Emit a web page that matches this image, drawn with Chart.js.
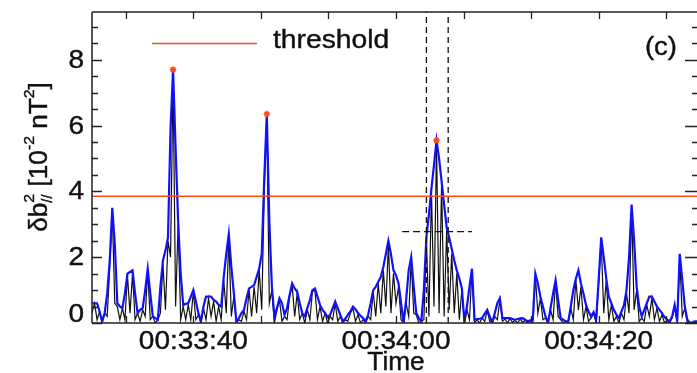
<!DOCTYPE html>
<html><head><meta charset="utf-8">
<script src="https://cdn.jsdelivr.net/npm/chart.js@4.4.0/dist/chart.umd.min.js"></script>
<style>
html,body{margin:0;padding:0;background:#fff;}
#wrap{width:697px;height:373px;overflow:hidden;position:relative;background:#fff;}
#c{display:block;}
</style></head><body>
<div id="wrap"><canvas id="c" width="720" height="373"></canvas></div>
<script>
// time in seconds after 00:33:30, fixed cadence
const T0 = 0;
const DT = 0.25;
const blueV = [
0.6,0.6,0.6,0.35,0.05,0.3,0.9,1.9,3.5,2.4,
0.6,0.5,0.45,0.9,1.5,1.55,1.6,0.9,0.3,0.4,
0.45,1.0,1.65,0.9,0.2,0.15,0.1,1.1,1.9,2.2,
2.6,5.9,7.7,5.3,3.1,1.5,0.55,0.58,0.6,0.8,
1.0,0.65,0.3,0.05,0.5,0.8,0.8,0.8,0.7,0.65,
0.55,0.5,1.4,2.1,2.7,1.7,0.9,0.03,0.15,0.3,
0.4,0.75,1.05,1.1,1.15,1.4,1.65,2.1,4.4,6.35,
3.1,1.1,0.2,0.45,0.75,0.6,0.25,0.45,0.85,1.2,
1.05,0.95,0.6,0.3,0.2,0.45,0.7,1.0,1.05,0.8,
0.55,0.4,0.3,0.18,0.25,0.45,0.65,0.45,0.25,0.05,
0.13,0.25,0.35,0.5,0.42,0.3,0.22,0.15,0.05,0.25,
0.6,1.0,1.1,1.25,1.4,1.7,2.1,2.5,2.1,1.6,
1.45,1.2,0.6,0.0,0.7,1.6,2.0,1.1,0.3,0.15,
0.05,1.0,2.6,3.3,4.1,4.8,5.55,5.0,4.3,3.6,
2.9,2.6,2.25,1.9,1.6,1.35,1.05,0.05,0.5,1.1,
1.65,0.1,0.12,0.13,0.15,0.28,0.4,0.2,0.02,0.3,
0.6,0.75,0.15,0.15,0.15,0.15,0.12,0.1,0.12,0.14,
0.15,0.1,0.05,0.08,0.1,1.5,1.2,0.8,0.5,0.2,
0.0,0.45,0.9,1.3,0.7,0.15,0.1,0.05,0.05,0.5,
1.0,1.35,1.6,1.2,0.9,0.55,0.35,0.2,0.33,0.1,
1.3,2.6,2.0,1.35,0.8,0.6,0.4,0.25,0.15,0.35,
0.55,1.0,2.0,3.6,2.5,1.1,0.5,0.2,0.4,0.6,
0.8,0.8,0.65,0.5,0.4,0.3,0.18,0.1,0.05,0.2,
0.55,0.05,2.1,1.3,0.5,0.1,0.0,0.02,0.05,0.05,0.05
];
const blackV = [
0.3,0.6,0.1,0.35,0.0,0.3,0.2,1.7,3.4,0.6,
0.5,0.1,0.45,0.1,1.45,0.3,1.5,0.1,0.3,0.05,
0.4,0.2,1.6,0.1,0.2,0.0,0.1,0.3,1.8,0.4,
2.5,2.0,7.5,0.5,3.0,0.1,0.5,0.1,0.55,0.1,
0.95,0.1,0.25,0.0,0.45,0.1,0.75,0.2,0.65,0.05,
0.5,0.1,1.3,0.3,2.6,0.2,0.8,0.0,0.1,0.05,
0.35,0.1,1.0,0.2,1.1,0.3,1.6,0.4,4.0,6.2,
0.6,1.0,0.0,0.4,0.7,0.05,0.2,0.1,0.8,1.15,
0.2,0.9,0.1,0.3,0.0,0.4,0.1,0.95,1.0,0.1,
0.5,0.05,0.3,0.0,0.2,0.1,0.6,0.05,0.2,0.0,
0.1,0.05,0.3,0.45,0.05,0.25,0.0,0.1,0.0,0.2,
0.1,0.95,0.2,1.2,0.3,1.6,0.5,2.4,0.3,1.5,
0.6,1.1,0.1,0.0,0.6,0.2,1.9,0.3,0.25,0.0,
0.05,0.1,2.5,0.2,4.0,0.5,5.4,0.3,4.2,0.2,
2.8,0.4,2.1,0.3,1.5,0.1,1.0,0.0,0.4,0.1,
1.6,0.0,0.1,0.0,0.15,0.05,0.38,0.05,0.0,0.2,
0.1,0.7,0.05,0.12,0.0,0.13,0.02,0.08,0.0,0.12,
0.02,0.08,0.0,0.05,0.0,1.45,0.3,0.75,0.1,0.15,
0.0,0.4,0.1,1.25,0.2,0.1,0.0,0.05,0.0,0.45,
0.1,1.3,0.4,1.1,0.1,0.5,0.05,0.15,0.3,0.0,
1.2,2.5,0.3,1.3,0.1,0.55,0.05,0.2,0.0,0.3,
0.1,0.9,0.3,3.5,0.4,1.0,0.05,0.15,0.05,0.55,
0.2,0.75,0.1,0.45,0.05,0.25,0.0,0.08,0.0,0.15,
0.5,0.0,2.0,0.2,0.45,0.0,0.0,0.02,0.0,0.04,0.0
];
const thresholdV = 3.85;
const peakT = [8.0, 17.25, 34.0];
const peakV = [7.7, 6.35, 5.55];
const windowT = [33.0, 35.15];
const halfMaxV = 2.775;
const halfMaxT = [30.6, 37.5];
const xTickValues = [10, 30, 50];
const xTickLabels = ['00:33:40', '00:34:00', '00:34:20'];
const yTickValues = [0, 2, 4, 6, 8];
const yTickLabels = ['0', '2', '4', '6', '8'];
const xMin = 0, xMax = 60, yMin = 0, yMax = 9.45;

const FONT = "'Liberation Sans', Arial, Helvetica, sans-serif";
const TXT = '#111';

function txt(ctx, s, x, y, size, align, sx) {
  ctx.save();
  ctx.font = size + 'px ' + FONT;
  const w = ctx.measureText(s).width * sx;
  let x0 = x;
  if (align === 'center') x0 = x - w / 2; else if (align === 'right') x0 = x - w;
  ctx.translate(x0, y);
  ctx.scale(sx, 1);
  ctx.textAlign = 'left';
  ctx.textBaseline = 'alphabetic';
  ctx.fillStyle = TXT;
  ctx.strokeStyle = TXT;
  ctx.lineWidth = 0.4;
  ctx.fillText(s, 0, 0);
  ctx.strokeText(s, 0, 0);
  ctx.restore();
}

const blackPts = blackV.map((v, i) => ({x: T0 + i * DT, y: v}));
const bluePts = blueV.map((v, i) => ({x: T0 + i * DT, y: v}));
const peakPts = peakT.map((t, i) => ({x: t, y: peakV[i]}));

const axesPlugin = {
  id: 'idlAxes',
  afterDatasetsDraw(chart) {
    const {ctx, chartArea: a, scales: {x, y}} = chart;
    ctx.save();
    ctx.strokeStyle = '#222';
    ctx.lineWidth = 1.5;
    ctx.beginPath();
    ctx.moveTo(a.left, a.top); ctx.lineTo(a.right, a.top);
    ctx.moveTo(a.left, a.bottom); ctx.lineTo(a.right, a.bottom);
    ctx.moveTo(a.left, a.top); ctx.lineTo(a.left, a.bottom);
    ctx.moveTo(a.right, a.top); ctx.lineTo(a.right, a.bottom);
    ctx.stroke();
    // y ticks
    ctx.lineWidth = 1.3;
    ctx.beginPath();
    for (let v = 0; v <= yMax; v += 0.5) {
      const py = Math.round(y.getPixelForValue(v)) + 0.5;
      const major = yTickValues.includes(v);
      const lL = major ? 10 : 6, lR = major ? 15 : 8;
      ctx.moveTo(a.left, py); ctx.lineTo(a.left + lL, py);
      ctx.moveTo(a.right, py); ctx.lineTo(a.right - lR, py);
    }
    // x ticks
    for (let k = 0; ; k++) {
      const t = 10 / 3 + k * 20 / 3;
      if (t > xMax) break;
      const px = Math.round(x.getPixelForValue(t)) + 0.5;
      ctx.moveTo(px, a.top); ctx.lineTo(px, a.top + 7);
      ctx.moveTo(px, a.bottom); ctx.lineTo(px, a.bottom - 7);
    }
    ctx.stroke();
    // y labels
    yTickValues.forEach((v, i) => {
      const py = y.getPixelForValue(v);
      const off = v === 0 ? -1 : 8;
      txt(ctx, yTickLabels[i], 84, py + off, 25, 'right', 1.12);
    });
    // x labels
    xTickValues.forEach((v, i) => {
      txt(ctx, xTickLabels[i], x.getPixelForValue(v), 349, 25, 'center', 1.12);
    });
    txt(ctx, 'Time', (a.left + a.right) / 2, 370, 25, 'center', 1.05);
    // legend
    ctx.strokeStyle = '#ff4a1c';
    ctx.lineWidth = 1.6;
    ctx.beginPath(); ctx.moveTo(152, 43.5); ctx.lineTo(257, 43.5); ctx.stroke();
    txt(ctx, 'threshold', 273, 48, 25, 'left', 1.13);
    txt(ctx, '(c)', 677, 55, 25, 'right', 1.1);
    // y title
    const segs = [
      {t: 'δb', s: 25, dy: 0},
      {t: '//', s: 14, dy: 5, stack: true},
      {t: '2', s: 15, dy: -13},
      {t: ' [10', s: 25, dy: 0},
      {t: '-2', s: 15, dy: -13},
      {t: ' nT', s: 25, dy: 0},
      {t: '2', s: 15, dy: -13},
      {t: ']', s: 25, dy: 0}
    ];
    ctx.save();
    let total = 0, stackW = 0;
    const widths = segs.map(g => { ctx.font = g.s + 'px ' + FONT; return ctx.measureText(g.t).width; });
    segs.forEach((g, i) => {
      if (g.stack) { stackW = widths[i]; }
      else if (stackW) { total += Math.max(stackW, widths[i]); stackW = 0; }
      else total += widths[i];
    });
    const sy = 1.05;
    ctx.translate(47, 157);
    ctx.rotate(-Math.PI / 2);
    ctx.scale(sy, 1);
    let cx = -total / 2;
    ctx.fillStyle = TXT;
    ctx.strokeStyle = TXT;
    ctx.lineWidth = 0.4;
    ctx.textBaseline = 'alphabetic';
    stackW = 0;
    segs.forEach((g, i) => {
      ctx.font = g.s + 'px ' + FONT;
      ctx.fillText(g.t, cx, g.dy);
      ctx.strokeText(g.t, cx, g.dy);
      if (g.stack) { stackW = widths[i]; }
      else if (stackW) { cx += Math.max(stackW, widths[i]); stackW = 0; }
      else cx += widths[i];
    });
    ctx.restore();
    ctx.restore();
  }
};

new Chart(document.getElementById('c'), {
  type: 'line',
  data: {
    datasets: [
      {data: peakPts, showLine: false, pointStyle: 'star', pointRadius: 3.2, borderColor: '#ff4a1c', backgroundColor: '#ff4a1c', pointBorderWidth: 1.6, order: 0},
      {data: [{x: windowT[0], y: yMin}, {x: windowT[0], y: yMax}], borderColor: '#111', borderWidth: 1.3, borderDash: [6, 4], pointRadius: 0, order: 1},
      {data: [{x: windowT[1], y: yMin}, {x: windowT[1], y: yMax}], borderColor: '#111', borderWidth: 1.3, borderDash: [6, 4], pointRadius: 0, order: 1},
      {data: [{x: halfMaxT[0], y: halfMaxV}, {x: halfMaxT[1], y: halfMaxV}], borderColor: '#111', borderWidth: 1.3, borderDash: [7, 4], pointRadius: 0, order: 1},
      {data: [{x: xMin, y: thresholdV}, {x: xMax, y: thresholdV}], borderColor: '#ff4a1c', borderWidth: 1.6, pointRadius: 0, order: 2},
      {data: bluePts, borderColor: '#1010ff', borderWidth: 2.2, pointRadius: 0, order: 3},
      {data: blackPts, borderColor: '#111', borderWidth: 1.2, pointRadius: 0, order: 4}
    ]
  },
  options: {
    responsive: false,
    devicePixelRatio: 1,
    animation: false,
    events: [],
    layout: {padding: {left: 92, top: 12, right: 20, bottom: 50}},
    elements: {line: {tension: 0, fill: false}},
    plugins: {legend: {display: false}, tooltip: {enabled: false}},
    scales: {
      x: {type: 'linear', min: xMin, max: xMax, display: false},
      y: {type: 'linear', min: yMin, max: yMax, display: false}
    }
  },
  plugins: [axesPlugin]
});
</script>
</body></html>
